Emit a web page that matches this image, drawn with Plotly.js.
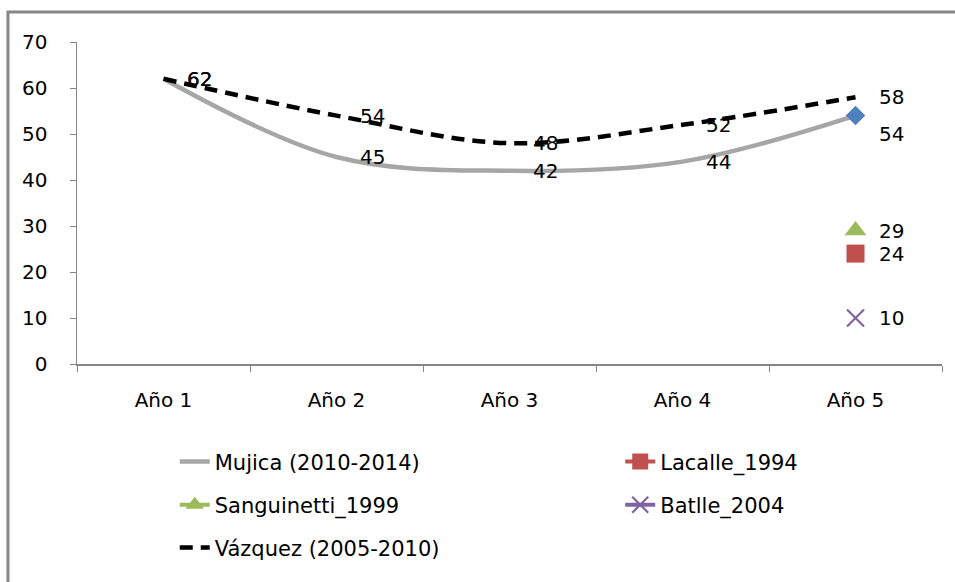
<!DOCTYPE html>
<html>
<head>
<meta charset="utf-8">
<script src="https://cdn.plot.ly/plotly-3.0.1.min.js"></script>
<style>html,body{margin:0;padding:0;background:#fff;}#chart{width:955px;height:582px;}</style>
</head>
<body>
<div id="chart"></div>
<script>
const categories = ['Año 1', 'Año 2', 'Año 3', 'Año 4', 'Año 5'];
const mujica = [62, 45, 42, 44, 54];
const vazquez = [62, 54, 48, 52, 58];
const lacalle = [null, null, null, null, 24];
const sanguinetti = [null, null, null, null, 29];
const batlle = [null, null, null, null, 10];
const seriesNames = ['Mujica (2010-2014)', 'Lacalle_1994', 'Sanguinetti_1999', 'Batlle_2004', 'Vázquez (2005-2010)'];

const FONT = 'DejaVu Sans, sans-serif';
const AXIS = '#868686';

const traces = [
  {x: categories, y: mujica, name: seriesNames[0], type: 'scatter', mode: 'lines',
   line: {color: '#A6A6A6', width: 4.5, shape: 'spline', smoothing: 1}, legend: 'legend'},
  {x: categories.slice(4), y: mujica.slice(4), type: 'scatter', mode: 'markers', showlegend: false,
   marker: {symbol: 'diamond', size: 15, color: '#4F81BD'}},
  {x: categories, y: lacalle, name: seriesNames[1], type: 'scatter', mode: 'lines+markers',
   line: {color: '#C0504D', width: 4}, marker: {symbol: 'square', size: 18, color: '#C0504D'}, legend: 'legend2'},
  {x: categories, y: sanguinetti, name: seriesNames[2], type: 'scatter', mode: 'lines+markers',
   line: {color: '#9BBB59', width: 4}, marker: {symbol: 'triangle-up', size: 19, color: '#9BBB59'}, legend: 'legend3'},
  {x: categories, y: batlle, name: seriesNames[3], type: 'scatter', mode: 'lines+markers',
   line: {color: '#8064A2', width: 4}, marker: {symbol: 'x-thin-open', size: 17, color: '#8064A2', line: {width: 2.2, color: '#8064A2'}}, legend: 'legend4'},
  {x: categories, y: vazquez, name: seriesNames[4], type: 'scatter', mode: 'lines',
   line: {color: '#000000', width: 4.5, dash: '13px,8px', shape: 'spline', smoothing: 1}, legend: 'legend5'}
];

// data labels
const annotations = [];
function addLabels(vals, yshifts) {
  vals.forEach((v, i) => {
    if (v === null) return;
    annotations.push({x: categories[i], y: v, xref: 'x', yref: 'y', text: String(v), showarrow: false,
      xanchor: 'left', yanchor: 'middle', xshift: 21, yshift: yshifts ? yshifts[i] : 0,
      font: {family: FONT, size: 20, color: '#000'}});
  });
}
addLabels(mujica, [0, 0, 0, 0, -18]);
addLabels(vazquez);
addLabels(lacalle);
addLabels(sanguinetti);
addLabels(batlle);

const legFont = {family: FONT, size: 21, color: '#000'};
function leg(x, y) {
  return {x: x, y: y, xanchor: 'left', yanchor: 'middle', xref: 'paper', yref: 'paper',
    bgcolor: 'rgba(0,0,0,0)', font: legFont, borderwidth: 0};
}

const layout = {
  width: 955, height: 582,
  margin: {l: 77, r: 13, t: 42, b: 218},
  paper_bgcolor: '#fff', plot_bgcolor: '#fff',
  font: {family: FONT, size: 20, color: '#000'},
  xaxis: {type: 'category', categoryorder: 'array', categoryarray: categories, range: [-0.5, 4.5],
    showline: true, linecolor: AXIS, linewidth: 1.5, showgrid: false, zeroline: false,
    ticks: 'outside', tickson: 'boundaries', ticklen: 6, tickcolor: AXIS, tickwidth: 1,
    ticklabelstandoff: 17, tickfont: {family: FONT, size: 20, color: '#000'}, fixedrange: true},
  yaxis: {range: [0, 70], dtick: 10, tick0: 0, showline: true, linecolor: AXIS, linewidth: 1.5,
    showgrid: false, zeroline: false, ticks: 'outside', ticklen: 6, tickcolor: AXIS, tickwidth: 1,
    ticklabelstandoff: 18, tickfont: {family: FONT, size: 20, color: '#000'}, fixedrange: true},
  legend: leg(0.113, -0.304),
  legend2: leg(0.628, -0.304),
  legend3: leg(0.113, -0.438),
  legend4: leg(0.628, -0.438),
  legend5: leg(0.113, -0.571),
  annotations: annotations,
  shapes: [{type: 'rect', xref: 'paper', yref: 'paper', x0: -0.0798, x1: 1.2, y0: 1.0932, y1: -1,
    line: {color: AXIS, width: 3}, fillcolor: 'rgba(0,0,0,0)', layer: 'below'}],
  showlegend: true
};

Plotly.newPlot('chart', traces, layout, {displayModeBar: false, staticPlot: true});
</script>
</body>
</html>
